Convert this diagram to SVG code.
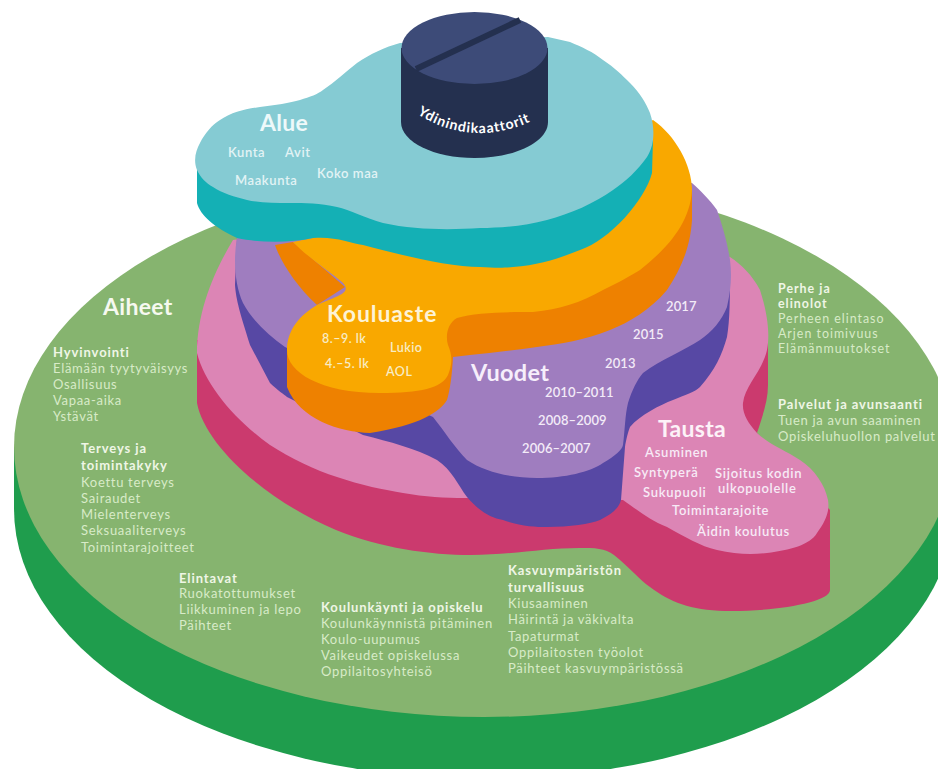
<svg xmlns="http://www.w3.org/2000/svg" width="938" height="769" viewBox="0 0 938 769">
<style>
text{font-family:"Lato","Open Sans","Liberation Sans",sans-serif;fill:#fff}
.h{font-size:23px;font-weight:700;fill:#f6f9f0;letter-spacing:.3px}
.b{font-size:13px;fill:#d8ebc8;letter-spacing:.7px}
.s{font-size:13px;font-weight:700;fill:#eff6e6;letter-spacing:.9px}
.pb{font-size:12.4px;fill:#d8ebc8;letter-spacing:1px}
.ps{font-size:12.4px;font-weight:700;fill:#eff6e6;letter-spacing:1px}
.l{font-size:13px;font-weight:600;fill:#f7eaf6;letter-spacing:.75px}
.v{font-size:13px;font-weight:600;fill:#f3ebf8;letter-spacing:.1px}
.y{font-size:12.5px;font-weight:600;fill:#f8ecc4;letter-spacing:.5px}
.t{font-size:13px;font-weight:600;fill:#e2f3f5;letter-spacing:.6px}
</style>
<rect width="938" height="769" fill="#fff"/>
<g id="aiheet">
<ellipse cx="484" cy="509" rx="470" ry="270" fill="#1f9d4d"/>
<rect x="14" y="447" width="940" height="62" fill="#1f9d4d"/>
<ellipse cx="484" cy="447" rx="470" ry="270" fill="#86b46f"/>
<text class="h" x="103" y="315">Aiheet</text>
<text class="s" x="53" y="357">Hyvinvointi</text>
<text class="b" x="53" y="373">Elämään tyytyväisyys</text>
<text class="b" x="53" y="389">Osallisuus</text>
<text class="b" x="53" y="405">Vapaa-aika</text>
<text class="b" x="53" y="421">Ystävät</text>
<text class="s" x="81" y="453">Terveys ja</text>
<text class="s" x="81" y="470">toimintakyky</text>
<text class="b" x="81" y="487">Koettu terveys</text>
<text class="b" x="81" y="503">Sairaudet</text>
<text class="b" x="81" y="519">Mielenterveys</text>
<text class="b" x="81" y="535">Seksuaaliterveys</text>
<text class="b" x="81" y="552">Toimintarajoitteet</text>
<text class="s" x="179" y="583">Elintavat</text>
<text class="b" x="179" y="598">Ruokatottumukset</text>
<text class="b" x="179" y="614">Liikkuminen ja lepo</text>
<text class="b" x="179" y="630">Päihteet</text>
<text class="s" x="321" y="612">Koulunkäynti ja opiskelu</text>
<text class="b" x="321" y="628">Koulunkäynnistä pitäminen</text>
<text class="b" x="321" y="644">Koulo-uupumus</text>
<text class="b" x="321" y="660">Vaikeudet opiskelussa</text>
<text class="b" x="321" y="676">Oppilaitosyhteisö</text>
<text class="s" x="508" y="575">Kasvuympäristön</text>
<text class="s" x="508" y="592">turvallisuus</text>
<text class="b" x="508" y="608">Kiusaaminen</text>
<text class="b" x="508" y="624">Häirintä ja väkivalta</text>
<text class="b" x="508" y="641">Tapaturmat</text>
<text class="b" x="508" y="657">Oppilaitosten työolot</text>
<text class="b" x="508" y="673">Päihteet kasvuympäristössä</text>
<text class="ps" x="778" y="293">Perhe ja</text>
<text class="ps" x="778" y="308">elinolot</text>
<text class="pb" x="778" y="323">Perheen elintaso</text>
<text class="pb" x="778" y="338">Arjen toimivuus</text>
<text class="pb" x="778" y="353">Elämänmuutokset</text>
<text class="s" x="778" y="409">Palvelut ja avunsaanti</text>
<text class="b" x="778" y="425">Tuen ja avun saaminen</text>
<text class="b" x="778" y="441">Opiskeluhuollon palvelut</text>
</g>
<g id="tausta">
<path fill="#cb3a6e" d="M197,340 L197,403 C205,445 265,500 336,530 C380,548 430,555 471,555 C510,555 545,548 579,548 C595,548 605,548 614,555 C630,568 640,580 650,587 C670,602 690,610 725,611 C770,612 830,603 830,590 L830,510 L757,433 C763,415 768,400 768,385 L768,330 L600,300 Z"/>
<path fill="#dc85b5" d="M233,240 C215,270 197,310 197,353 C205,385 235,420 270,445 C290,458 315,470 337,477 C360,485 385,490 403,493 C425,497 445,498 465,498 L623,500 C640,512 650,520 667,527 C685,537 700,546 717,550 C735,554 750,555 767,553 C790,550 810,545 817,533 C825,522 830,512 828,500 C825,485 815,470 800,460 C785,450 770,445 757,433 C748,423 742,413 743,403 C745,385 762,372 767,350 C770,335 768,315 760,290 C752,275 742,265 730,257 L500,200 Z"/>
<text class="h" x="658" y="437" style="fill:#fdf2f8">Tausta</text>
<text class="l" x="645" y="457">Asuminen</text>
<text class="l" x="634" y="477">Syntyperä</text>
<text class="l" x="715" y="478">Sijoitus kodin</text>
<text class="l" x="718" y="493">ulkopuolelle</text>
<text class="l" x="643" y="497">Sukupuoli</text>
<text class="l" x="672" y="515">Toimintarajoite</text>
<text class="l" x="697" y="536">Äidin koulutus</text>
</g>
<g id="vuodet">
<path fill="#5748a4" d="M237,238 L235,285 C236,300 240,313 250,345 L270,383 C277,390 285,395 287,397 L363,435 C390,442 415,448 437,460 C452,470 458,485 467,497 C478,510 490,518 503,520 C520,526 535,527 547,527 C570,527 590,524 600,520 C612,514 619,508 621,500 L625,447 C626,440 628,432 630,427 C640,415 660,405 673,400 C685,395 695,392 700,387 C715,370 722,355 727,337 C730,320 730,295 730,270 L500,200 Z"/>
<path fill="#9f7dbf" d="M237,238 C233,260 235,285 243,303 C252,320 268,335 285,347 L433,417 C445,432 455,448 467,460 C485,472 510,478 537,478 C565,478 590,472 603,463 C615,456 622,450 623,445 C625,430 625,415 628,403 C632,390 637,380 643,373 C660,360 685,350 700,340 C712,332 722,320 727,307 C731,290 732,275 730,260 C727,240 722,225 717,210 C710,200 700,190 692,183 L500,150 Z"/>
<text class="h" x="471" y="381" style="fill:#f6eefb;font-size:23.5px">Vuodet</text>
<text class="v" x="666" y="311">2017</text>
<text class="v" x="633" y="339">2015</text>
<text class="v" x="605" y="368">2013</text>
<text class="v" x="545" y="397">2010–2011</text>
<text class="v" x="538" y="425">2008–2009</text>
<text class="v" x="522" y="453">2006–2007</text>
</g>
<g id="kouluaste">
<path fill="#ee8100" d="M692,187 L692,220 C690,250 680,270 667,290 C650,310 630,322 610,330 C585,340 560,344 537,347 C515,350 490,353 470,355 L453,357 C452,375 450,390 447,400 C440,412 420,425 370,433 C340,432 300,420 287,387 L287,350 L450,300 Z"/>
<path fill="#ee8100" d="M275,245 C280,260 295,285 317,305 L345,287 L293,242 Z"/>
<path fill="#f9a800" d="M293,242 C305,255 330,272 342,282 C348,288 347,292 338,296 C330,300 325,301 317,305 C300,315 287,330 287,350 C287,372 320,393 380,393 C420,393 442,388 448,375 C453,362 452,355 448,345 C445,335 448,323 457,318 C475,312 510,312 533,312 C560,309 580,303 603,290 C620,282 630,276 640,270 C665,250 690,225 692,190 C692,165 675,135 653,120 L500,200 Z"/>
<text class="h" x="327" y="322" style="fill:#fdf3d6;letter-spacing:.9px">Kouluaste</text>
<text class="y" x="322" y="343">8.–9. lk</text>
<text class="y" x="325" y="368">4.–5. lk</text>
<text class="y" x="390" y="352">Lukio</text>
<text class="y" x="386" y="376">AOL</text>
</g>
<g id="alue">
<path fill="#14b0b5" d="M197,163 L197,203 C200,215 215,228 237,238 C260,243 290,243 313,238 C335,236 350,243 363,245 C400,255 450,267 480,267 C495,268 505,268 513,267 C540,265 560,258 580,250 C610,240 645,200 652,173 L653,140 Z"/>
<path fill="#85cbd3" d="M197,170 C193,160 196,150 200,143 C205,133 212,125 220,120 C232,112 245,109 260,107 C275,105 290,103 300,100 C310,97 318,94 323,90 C335,82 345,72 357,63 C370,54 385,47 400,43 L548,37 L570,42 C582,47 593,52 603,60 C615,68 622,75 630,83 C640,93 646,103 650,113 C653,122 654,130 653,140 C652,147 650,152 647,157 C638,170 625,182 613,190 C595,203 570,214 547,220 C525,226 500,228 480,228 C450,230 415,230 383,223 C365,218 350,210 337,207 C320,203 305,203 290,203 C275,203 260,203 247,200 C235,197 222,193 213,187 C206,183 200,177 197,170 Z"/>
<text class="h" x="260" y="131" style="fill:#eef9fa">Alue</text>
<text class="t" x="228" y="157">Kunta</text>
<text class="t" x="285" y="157">Avit</text>
<text class="t" x="317" y="178">Koko maa</text>
<text class="t" x="235" y="185">Maakunta</text>
</g>
<g id="ydinindikaattorit">
<path fill="#24304f" d="M401,48 L401,122 C401,142 434,158 474.5,158 C515,158 548,142 548,122 L548,48 Z"/>
<ellipse cx="474.5" cy="48" rx="73" ry="36" fill="#3d4b78"/>
<path d="M416,69 L520,20" stroke="#24304f" stroke-width="6" fill="none"/>
<path id="pillarc" fill="none" d="M417,114 Q475,150 538,118"/>
<text style="font-size:14px;font-weight:700;fill:#fff;letter-spacing:.9px"><textPath href="#pillarc">Ydinindikaattorit</textPath></text>
</g>
<g id="connectors"/>
</svg>
